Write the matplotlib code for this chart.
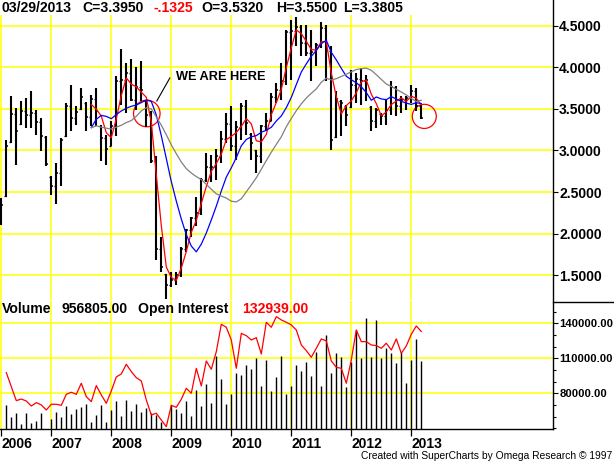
import matplotlib
matplotlib.use('Agg')
import matplotlib.pyplot as plt
from matplotlib.patches import Ellipse
from matplotlib.lines import Line2D
from matplotlib.transforms import blended_transform_factory
import numpy as np
import pandas as pd

plt.rcParams['font.family'] = ['Liberation Sans', 'DejaVu Sans']
plt.rcParams['font.weight'] = 'bold'

# monthly bars, Mar 2006 .. Mar 2013
months = pd.date_range('2006-03-01', periods=85, freq='MS')

opens = [2.20, 2.45, 3.10, 3.44, 3.32, 3.47, 3.43, 3.45, 3.34, 3.16,
         2.68, 2.57, 2.73, 3.17, 3.54, 3.39, 3.50, 3.57, 3.40, 3.62,
         3.30, 3.15, 3.06, 3.29, 3.84, 3.85, 3.93, 3.61, 3.76, 3.59,
         3.43, 2.87, 1.82, 1.51, 1.38, 1.44, 1.50, 1.82, 2.04, 2.19,
         2.25, 2.65, 2.80, 2.80, 2.93, 3.14, 3.32, 3.05, 3.28, 3.54,
         3.20, 3.00, 2.93, 3.29, 3.36, 3.64, 3.73, 3.83, 4.43, 4.44,
         4.48, 4.29, 4.17, 4.18, 4.27, 4.47, 4.19, 3.16, 3.60, 3.54,
         3.52, 3.79, 3.86, 3.83, 3.52, 3.35, 3.44, 3.41, 3.49, 3.76,
         3.53, 3.61, 3.63, 3.72, 3.532]
highs = [2.43, 3.13, 3.65, 3.51, 3.59, 3.63, 3.71, 3.49, 3.39, 3.17,
         2.69, 2.85, 3.15, 3.57, 3.79, 3.53, 3.75, 3.58, 3.67, 3.75,
         3.31, 3.19, 3.36, 3.89, 4.22, 4.05, 4.10, 4.00, 4.08, 3.60,
         3.48, 2.93, 1.96, 1.52, 1.54, 1.54, 1.84, 2.06, 2.20, 2.44,
         2.67, 2.97, 2.95, 3.02, 3.23, 3.45, 3.53, 3.36, 3.57, 3.61,
         3.21, 3.01, 3.31, 3.45, 3.69, 3.81, 4.05, 4.45, 4.57, 4.61,
         4.51, 4.51, 4.45, 4.29, 4.55, 4.51, 4.25, 3.71, 3.61, 3.55,
         3.97, 3.93, 3.99, 3.91, 3.53, 3.51, 3.45, 3.61, 3.83, 3.77,
         3.65, 3.65, 3.79, 3.75, 3.55]
lows = [2.10, 2.44, 3.09, 2.83, 3.31, 3.27, 3.27, 3.19, 2.99, 2.81,
        2.47, 2.36, 2.57, 3.16, 3.23, 3.31, 3.49, 3.24, 3.29, 3.29,
        2.87, 2.83, 3.05, 3.17, 3.55, 3.45, 3.60, 3.49, 3.60, 3.28,
        2.85, 1.68, 1.54, 1.22, 1.36, 1.38, 1.48, 1.78, 1.96, 2.09,
        2.23, 2.62, 2.62, 2.65, 2.85, 3.09, 2.99, 2.89, 3.13, 3.19,
        2.89, 2.73, 2.85, 3.23, 3.35, 3.57, 3.61, 3.79, 3.85, 4.25,
        4.13, 4.13, 3.83, 4.01, 4.23, 3.83, 3.01, 3.15, 3.17, 3.29,
        3.51, 3.57, 3.55, 3.59, 3.23, 3.27, 3.31, 3.31, 3.43, 3.41,
        3.45, 3.49, 3.57, 3.47, 3.3805]
closes = [2.35, 3.05, 3.44, 3.23, 3.47, 3.43, 3.45, 3.34, 3.18, 2.84,
          2.57, 2.73, 3.13, 3.54, 3.39, 3.46, 3.64, 3.40, 3.62, 3.47,
          3.15, 3.02, 3.29, 3.84, 3.85, 3.93, 3.61, 3.76, 3.73, 3.43,
          2.87, 1.82, 1.60, 1.38, 1.44, 1.50, 1.82, 2.04, 2.19, 2.25,
          2.65, 2.80, 2.80, 2.93, 3.14, 3.32, 3.05, 3.28, 3.54, 3.33,
          3.09, 2.93, 3.29, 3.36, 3.64, 3.73, 3.83, 4.43, 4.44, 4.48,
          4.29, 4.17, 4.18, 4.27, 4.47, 4.19, 3.13, 3.62, 3.57, 3.43,
          3.79, 3.86, 3.83, 3.85, 3.35, 3.49, 3.41, 3.49, 3.76, 3.53,
          3.61, 3.63, 3.72, 3.53, 3.395]
volume = [0, 338000, 173000, 220000, 70000, 220000, 80000, 113000, 220000, 0,
          141000, 235000, 169000, 324000, 211000, 286000, 310000, 352000, 98000, 197000,
          338000, 98000, 267000, 394000, 183000, 408000, 258000, 352000, 244000, 291000,
          220000, 197000, 103000, 0, 338000, 286000, 225000, 399000, 183000, 549000,
          324000, 633000, 366000, 1022000, 699000, 352000, 492000, 793000, 760000, 900000,
          840000, 1004000, 605000, 971000, 535000, 727000, 1027000, 492000, 605000, 900000,
          821000, 947000, 746000, 1079000, 605000, 1323000, 793000, 1065000, 1008000, 596000,
          947000, 1393000, 1004000, 1557000, 1008000, 1534000, 1004000, 1135000, 1065000, 924000,
          1088000, 652000, 971000, 1266000, 956805]
open_interest = [np.nan, 97700, 85700, 73700, 75100, 73400, 69100, 72000, 70000, 65700,
                 70600, 70600, 69700, 79100, 80900, 79100, 88600, 77100, 72900, 86600,
                 78600, 71400, 82000, 94000, 96600, 104900, 98600, 93400, 90600, 74300,
                 61400, 62900, 57100, 51400, 69700, 68000, 74900, 84300, 80000, 101400,
                 86300, 107700, 100600, 115700, 139100, 136600, 125700, 101400, 131400, 129400,
                 125700, 127700, 113700, 140900, 136600, 145700, 142900, 140900, 138600, 134300,
                 121400, 116600, 110900, 118600, 126600, 124900, 107700, 102300, 101400, 88600,
                 108600, 134300, 124300, 124300, 121400, 120900, 118600, 122900, 117100, 126600,
                 114300, 120600, 130600, 137700, 132939]

ma_lengths = [3, 9, 18]
ma_colors = ['#ff0000', '#0000ff', '#808080']
ma_start = 18

W, H = 614, 463
YELLOW = '#ffff00'


def box(x0, y0, x1, y1):
    # pixel box (y measured from top) -> figure fraction rect
    return [x0 / W, 1 - y1 / H, (x1 - x0) / W, (y1 - y0) / H]


def px(x, y):
    return x / W, 1 - y / H


fig = plt.figure(figsize=(W / 100, H / 100), dpi=100)
fig.patch.set_facecolor('white')

x = np.arange(len(closes))
years = months.year
year_pos = [i for i in x if i == 0 or years[i] != years[i - 1]]
year_lab = [str(years[i]) for i in year_pos]

# ---- price panel ----
ax = fig.add_axes(box(0, 15, 553, 300))
ax.set_xlim(-0.26, 110.34)
ax.set_ylim(1.2031, 4.6286)
ax.set_yticks([1.5, 2.0, 2.5, 3.0, 3.5, 4.0, 4.5])
ax.yaxis.set_major_formatter(matplotlib.ticker.FormatStrFormatter('%.4f'))
ax.yaxis.tick_right()
ax.tick_params(axis='y', direction='out', length=3.6, width=0.8, pad=0.8, labelsize=10)
ax.set_xticks(year_pos)
ax.tick_params(axis='x', length=0, labelbottom=False)
ax.grid(True, color=YELLOW, lw=1.1)
ax.set_axisbelow(True)
for s in ax.spines.values():
    s.set_visible(False)

ax.vlines(x, lows, highs, color='black', lw=1.5)
ax.hlines(closes, x - 0.35, x + 0.4, color='black', lw=1.1)
ax.hlines(opens, x - 0.45, x, color='black', lw=0.9)

cl = pd.Series(closes)
for n, c in zip(ma_lengths, ma_colors):
    ma = cl.rolling(n).mean()
    ma[:ma_start] = np.nan
    ax.plot(x, ma, color=c, lw=0.9)

ax.add_patch(Ellipse((29.1, 3.445), 5.3, 0.32, fill=False, ec='red', lw=0.9))
ax.add_patch(Ellipse((84.6, 3.41), 4.8, 0.29, fill=False, ec='red', lw=0.9))
ax.plot([31.1, 33.7], [3.595, 3.871], color='black', lw=0.8)
ax.text(34.9, 3.883, 'WE ARE HERE', fontsize=9.2, va='center', ha='left')

# ---- volume / open interest panel ----
axv = fig.add_axes(box(0, 301, 553, 429), sharex=ax)
axv.set_ylim(0, 1801000)
axv.set_yticks([])
vol = np.array(volume)
axv.vlines(x[vol > 0], 0, vol[vol > 0], color='black', lw=1.0, zorder=3)
axv.grid(True, axis='x', color=YELLOW, lw=1.1)
axv.set_axisbelow(True)

axoi = axv.twinx()
axoi.set_ylim(49400, 159114)
axoi.set_yticks([80000, 110000, 140000])
axoi.set_yticks(np.arange(50000, 160000, 10000), minor=True)
axoi.yaxis.set_major_formatter(matplotlib.ticker.FormatStrFormatter('%.2f'))
axoi.tick_params(axis='y', which='major', direction='out', length=3.6, width=0.8, pad=1.2, labelsize=8.1)
axoi.tick_params(axis='y', which='minor', direction='out', length=2.2, width=0.8)
trans = blended_transform_factory(axv.transAxes, axoi.transData)
for v in [80000, 110000, 140000]:
    axv.add_line(Line2D([0, 1], [v, v], transform=trans, color=YELLOW, lw=1.1, zorder=1))
axoi.plot(x, open_interest, color='red', lw=0.9)

axv.set_xticks(year_pos)
axv.set_xticklabels(year_lab)
axv.tick_params(axis='x', direction='out', length=5, width=0.9, pad=0.5, labelsize=10)
plt.setp(axv.get_xticklabels(), ha='left')
for a in (axv, axoi):
    for k in ('top', 'left', 'right'):
        a.spines[k].set_visible(False)
axoi.spines['bottom'].set_visible(False)
axv.spines['bottom'].set_linewidth(1.0)

# borders of the label column
fig.add_artist(Line2D([553 / W, 553 / W], [1, 1 - 429 / H], color='black', lw=1.0))
fig.add_artist(Line2D([553 / W, 1], [1 - 301.5 / H] * 2, color='black', lw=1.0))

# ---- header texts ----
hy = 8.5
fs = 10.1
fig.text(*px(2, hy), '03/29/2013', fontsize=fs, va='center')
fig.text(*px(82, hy), 'C=3.3950', fontsize=fs, va='center')
fig.text(*px(153, hy), '-.1325', fontsize=fs, va='center', color='red')
fig.text(*px(201, hy), 'O=3.5320', fontsize=fs, va='center')
fig.text(*px(276, hy), 'H=3.5500', fontsize=fs, va='center')
fig.text(*px(343, hy), 'L=3.3805', fontsize=fs, va='center')

vy = 309
fig.text(*px(2, vy), 'Volume', fontsize=fs, va='center')
fig.text(*px(61, vy), '956805.00', fontsize=fs, va='center')
fig.text(*px(138, vy), 'Open Interest', fontsize=fs, va='center')
fig.text(*px(242, vy), '132939.00', fontsize=fs, va='center', color='red')

fig.text(*px(612, 456), 'Created with SuperCharts by Omega Research \u00a9 1997',
         fontsize=7.4, va='center', ha='right', fontweight='normal')

fig.savefig('out.png', dpi=100)
